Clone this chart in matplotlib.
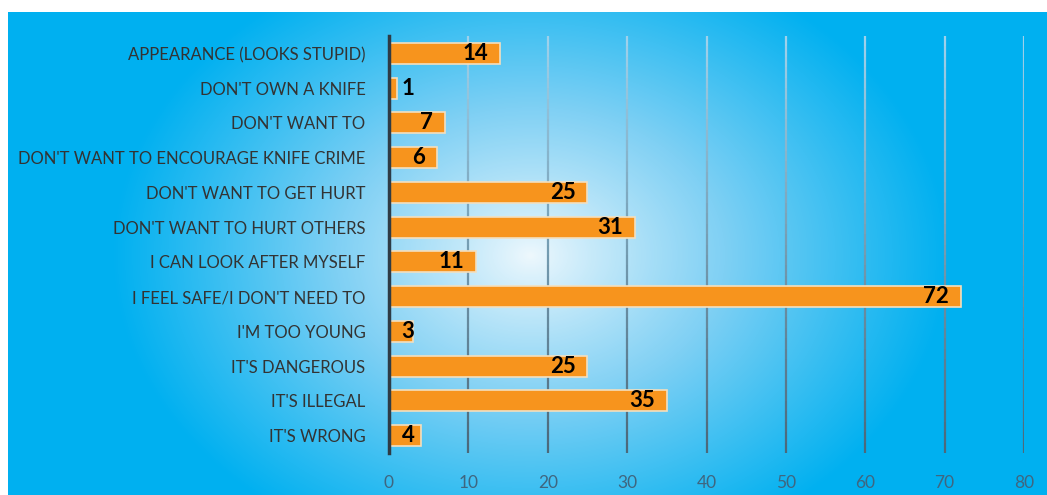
import numpy as np
import matplotlib.pyplot as plt
from matplotlib.colors import LinearSegmentedColormap
from matplotlib.collections import LineCollection

# reasons for not carrying a knife
categories = ["APPEARANCE (LOOKS STUPID)", "DON'T OWN A KNIFE", "DON'T WANT TO",
              "DON'T WANT TO ENCOURAGE KNIFE CRIME", "DON'T WANT TO GET HURT",
              "DON'T WANT TO HURT OTHERS", "I CAN LOOK AFTER MYSELF",
              "I FEEL SAFE/I DON'T NEED TO", "I'M TOO YOUNG", "IT'S DANGEROUS",
              "IT'S ILLEGAL", "IT'S WRONG"]
values = [14, 1, 7, 6, 25, 31, 11, 72, 3, 25, 35, 4]
xticks = [0, 10, 20, 30, 40, 50, 60, 70, 80]

W, H = 1047, 495
fig = plt.figure(figsize=(W / 100, H / 100), dpi=100)
fig.patch.set_facecolor('white')

# radial gradient background
bg = fig.add_axes([8 / W, 0, 1 - 8 / W, 1 - 12 / H])
bg.set_axis_off()
gx = np.arange(8, W)
gy = np.arange(12, H)
X, Y = np.meshgrid(gx, gy)
d = np.sqrt(((X - 530) / 420.0) ** 2 + ((Y - 255) / 320.0) ** 2)
t = np.clip(d, 0, 1) ** 0.9
cmap = LinearSegmentedColormap.from_list('bg', ['#eef8fd', '#7fd0f4', '#00b0f0'])
bg.imshow(t, cmap=cmap, aspect='auto', vmin=0, vmax=1, interpolation='bilinear')

ax = fig.add_axes([389 / W, 1 - 453 / H, (1024 - 389) / W, (453 - 36) / H])
ax.patch.set_alpha(0)

n = len(categories)
ypos = np.arange(n)
ax.barh(ypos, values, height=0.6, color='#f7941d', edgecolor='#f3dfbf',
        linewidth=1.2, zorder=3)

# gridlines: faint at the top, dark at the bottom
segs, cols = [], []
steps = 40
top_c = np.array([0.62, 0.82, 0.92])
bot_c = np.array([0.29, 0.40, 0.47])
for xv in xticks[1:]:
    ys = np.linspace(-0.5, n - 0.5, steps + 1)
    for i in range(steps):
        segs.append([(xv, ys[i]), (xv, ys[i + 1])])
        f = i / steps
        cols.append(tuple(top_c * (1 - f) + bot_c * f))
ax.add_collection(LineCollection(segs, colors=cols, linewidths=1.6, zorder=1))

for y, v in zip(ypos, values):
    if v < 5:
        ax.text(1.6, y, str(v), ha='left', va='center', fontsize=16,
                fontweight='bold', family='Lato', color='black', zorder=4)
    else:
        ax.text(v - 1.5, y, str(v), ha='right', va='center', fontsize=16,
                fontweight='bold', family='Lato', color='black', zorder=4)

ax.set_xlim(0, 80)
ax.set_ylim(n - 0.5, -0.5)
ax.set_xticks(xticks)
ax.set_xticklabels([str(x) for x in xticks], family='Lato', fontsize=12.5, color='#3f6680')
ax.set_yticks(ypos)
ax.set_yticklabels(categories, family='Lato', fontsize=12, color='#333333')
ax.tick_params(axis='both', length=0)
ax.tick_params(axis='x', pad=16)
ax.tick_params(axis='y', pad=17)
for s in ['top', 'right', 'bottom']:
    ax.spines[s].set_visible(False)
ax.spines['left'].set_color('#2e3b45')
ax.spines['left'].set_linewidth(2.5)
ax.spines['left'].set_zorder(5)

fig.savefig('out.png', dpi=100)
